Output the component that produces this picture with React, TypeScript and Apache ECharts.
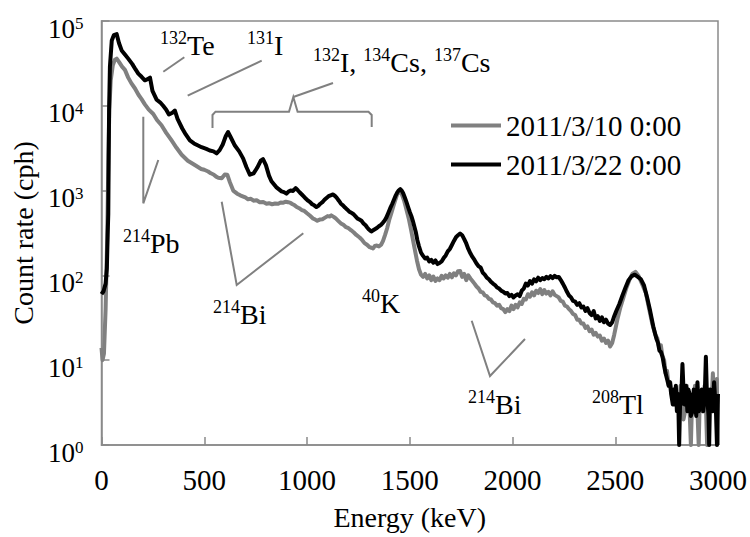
import React, { useEffect, useRef } from "react";
import * as echarts from "echarts";

// ---------- data ----------
const SERIES_NAMES = ["2011/3/10 0:00", "2011/3/22 0:00"];

// [energy keV, count rate cph] – 2011/3/10 0:00 (grey)
const spectrumMar10: [number, number][] = [
  [0, 14], [5, 10], [12, 12], [20, 40], [28, 300], [33, 2000], [38, 9000], [45, 20000], [55, 30000],
  [65, 35000], [74, 36000], [85, 33000], [100, 29000], [114, 26500], [130, 21500], [145, 18500],
  [163, 16000], [180, 13500], [195, 12000], [211, 10400], [230, 9000], [252, 8000], [270, 6800],
  [292, 5900], [315, 4800], [341, 3900], [365, 3200], [390, 2650], [420, 2250], [454, 2000],
  [485, 1800], [500, 1760], [519, 1680], [532, 1600], [545, 1550], [558, 1460], [568, 1420],
  [585, 1400], [600, 1550], [612, 1540], [625, 1250], [641, 1000], [660, 920], [675, 880], [690, 850],
  [700, 830], [713, 790], [727, 800], [740, 760], [755, 770], [770, 730], [787, 735], [803, 700],
  [815, 710], [830, 690], [845, 705], [860, 700], [872, 725], [885, 720], [897, 740], [908, 730],
  [920, 715], [930, 690], [940, 670], [950, 640], [962, 620], [975, 590], [987, 575], [1000, 540],
  [1015, 505], [1029, 470], [1040, 455], [1050, 440], [1062, 455], [1075, 460], [1088, 480],
  [1100, 500], [1110, 495], [1118, 510], [1130, 490], [1140, 470], [1152, 440], [1165, 410],
  [1177, 395], [1190, 370], [1202, 360], [1215, 340], [1228, 320], [1240, 300], [1256, 280],
  [1268, 262], [1280, 240], [1292, 230], [1305, 215], [1313, 212], [1321, 208], [1330, 222],
  [1340, 225], [1350, 220], [1361, 230], [1370, 255], [1380, 300], [1390, 360], [1400, 450],
  [1410, 540], [1420, 650], [1430, 780], [1440, 920], [1450, 990], [1462, 900], [1472, 770],
  [1480, 650], [1495, 470], [1507, 340], [1520, 230], [1535, 150], [1545, 118], [1555, 102],
  [1565, 96], [1575, 104], [1585, 92], [1595, 100], [1605, 88], [1615, 97], [1625, 86], [1635, 92],
  [1645, 88], [1655, 99], [1665, 92], [1675, 100], [1685, 94], [1695, 104], [1705, 95], [1715, 106],
  [1725, 100], [1735, 112], [1745, 113], [1755, 96], [1765, 104], [1775, 88], [1785, 100], [1795, 92],
  [1805, 86], [1815, 80], [1825, 74], [1835, 70], [1845, 64], [1855, 63], [1865, 58], [1875, 57],
  [1885, 53], [1895, 52], [1905, 48], [1915, 47], [1925, 44], [1935, 45], [1945, 41], [1955, 40],
  [1965, 37], [1975, 40], [1985, 38], [1995, 44], [2005, 40], [2015, 45], [2025, 42], [2035, 48],
  [2045, 46], [2055, 53], [2065, 52], [2075, 60], [2085, 56], [2095, 63], [2105, 58], [2115, 66],
  [2125, 62], [2135, 69], [2145, 60], [2155, 67], [2165, 61], [2175, 64], [2185, 58], [2195, 65],
  [2205, 59], [2215, 57], [2225, 55], [2235, 50], [2245, 49], [2255, 44], [2265, 43], [2275, 40],
  [2285, 38], [2295, 35], [2305, 34], [2315, 30], [2325, 30], [2335, 27], [2345, 27], [2355, 24],
  [2365, 25], [2375, 22], [2385, 23], [2395, 20], [2405, 21], [2415, 19], [2425, 19.5], [2435, 17],
  [2445, 18], [2455, 16], [2465, 17], [2475, 14.5], [2485, 16], [2495, 20], [2510, 30], [2525, 42],
  [2540, 55], [2555, 72], [2570, 90], [2584, 105], [2598, 110], [2612, 100], [2630, 80], [2649, 62],
  [2665, 40], [2680, 27], [2695, 20], [2705, 18], [2714, 14], [2722, 15], [2730, 11], [2738, 10],
  [2745, 7], [2752, 7.5], [2760, 5], [2768, 5.5], [2775, 4], [2783, 4.5], [2790, 3.5], [2800, 4],
  [2810, 3], [2818, 5], [2825, 4], [2832, 2], [2840, 2.5], [2848, 5], [2855, 3.5], [2862, 2.5],
  [2868, 1], [2874, 3.5], [2880, 3], [2888, 5], [2895, 4], [2900, 2.5], [2906, 1], [2912, 4],
  [2918, 3.5], [2926, 2.5], [2935, 5], [2941, 3], [2947, 1], [2953, 4.5], [2960, 4], [2968, 3],
  [2975, 7], [2982, 2.5], [2988, 3], [2994, 6], [3000, 1],
];

// [energy keV, count rate cph] – 2011/3/22 0:00 (black)
const spectrumMar22: [number, number][] = [
  [0, 60], [10, 65], [20, 80], [26, 120], [30, 300], [33, 530], [35, 2500], [37, 9000], [41, 29000],
  [50, 59000], [60, 68000], [74, 70000], [85, 55000], [98, 45000], [115, 40000], [130, 36000],
  [150, 31000], [165, 27000], [179, 24000], [195, 22000], [211, 20000], [222, 20500], [236, 21500],
  [248, 15000], [268, 11800], [285, 11000], [300, 10000], [315, 9000], [328, 7900], [345, 8300],
  [357, 8800], [370, 7000], [393, 5400], [410, 4600], [430, 3900], [450, 3600], [470, 3400],
  [487, 3250], [510, 3100], [527, 2970], [545, 2900], [560, 2750], [575, 3000], [590, 3500],
  [605, 4400], [616, 4900], [630, 4200], [649, 3400], [670, 2900], [689, 2400], [705, 1900],
  [722, 1540], [740, 1600], [760, 1900], [775, 2250], [786, 2350], [800, 2000], [815, 1500],
  [827, 1290], [850, 1100], [876, 980], [888, 960], [900, 920], [910, 975], [920, 1000], [932, 990],
  [945, 1070], [955, 1010], [965, 950], [975, 900], [985, 850], [995, 800], [1005, 760], [1015, 730],
  [1025, 690], [1035, 670], [1046, 640], [1055, 660], [1065, 700], [1075, 730], [1085, 780],
  [1095, 820], [1105, 860], [1115, 880], [1126, 900], [1135, 870], [1145, 820], [1155, 760],
  [1165, 700], [1175, 670], [1185, 630], [1195, 600], [1207, 560], [1215, 550], [1225, 530],
  [1235, 500], [1245, 470], [1255, 455], [1265, 440], [1275, 410], [1285, 390], [1292, 370],
  [1300, 350], [1306, 340], [1313, 330], [1320, 338], [1330, 350], [1340, 362], [1350, 380],
  [1360, 395], [1370, 420], [1378, 445], [1386, 480], [1395, 540], [1405, 620], [1415, 700],
  [1425, 800], [1432, 880], [1440, 960], [1447, 1010], [1454, 1040], [1461, 1000], [1468, 930],
  [1476, 830], [1485, 720], [1492, 640], [1500, 560], [1508, 500], [1515, 440], [1522, 380],
  [1530, 320], [1537, 260], [1545, 220], [1555, 185], [1565, 170], [1575, 158], [1585, 162],
  [1595, 146], [1605, 152], [1615, 141], [1625, 150], [1635, 136], [1645, 140], [1655, 146],
  [1665, 160], [1675, 172], [1685, 192], [1695, 205], [1705, 228], [1715, 255], [1725, 282],
  [1735, 298], [1745, 312], [1755, 298], [1765, 268], [1775, 238], [1785, 205], [1795, 182],
  [1805, 165], [1815, 152], [1825, 138], [1835, 128], [1845, 124], [1855, 108], [1865, 102],
  [1875, 94], [1885, 90], [1895, 84], [1905, 80], [1915, 77], [1925, 72], [1935, 70], [1945, 66],
  [1955, 64], [1965, 61], [1975, 62], [1985, 57], [1995, 59], [2005, 55], [2015, 58], [2025, 60],
  [2035, 57], [2045, 66], [2055, 70], [2065, 80], [2075, 76], [2085, 86], [2095, 80], [2105, 90],
  [2115, 85], [2125, 94], [2135, 88], [2145, 93], [2155, 90], [2165, 96], [2175, 92], [2185, 98],
  [2195, 93], [2205, 99], [2215, 95], [2225, 96], [2235, 88], [2245, 80], [2255, 72], [2265, 64],
  [2275, 58], [2285, 55], [2295, 50], [2305, 49], [2315, 45], [2325, 47], [2335, 42], [2345, 43],
  [2355, 38], [2365, 41], [2375, 36], [2385, 34], [2395, 38], [2405, 31], [2415, 33], [2425, 29],
  [2435, 32], [2445, 28], [2455, 30], [2465, 27], [2475, 26], [2485, 28], [2495, 33], [2505, 38],
  [2520, 46], [2535, 58], [2550, 72], [2565, 88], [2580, 98], [2595, 102], [2610, 96], [2625, 90],
  [2640, 76], [2655, 55], [2670, 38], [2685, 25], [2700, 18], [2708, 16], [2715, 13], [2722, 12.5],
  [2730, 11], [2738, 8.5], [2745, 7], [2752, 6], [2760, 5], [2766, 5.5], [2772, 4], [2780, 3],
  [2785, 4.5], [2790, 3], [2795, 5], [2800, 2.5], [2806, 4], [2811, 1], [2816, 3.5], [2820, 3],
  [2827, 9], [2833, 4], [2838, 3], [2844, 5], [2851, 2.5], [2856, 4.5], [2862, 4], [2868, 2.2],
  [2876, 2.5], [2882, 4.5], [2888, 3.5], [2894, 2.2], [2900, 5.5], [2907, 2.5], [2915, 3],
  [2921, 4.5], [2928, 2.5], [2935, 3.5], [2941, 11], [2946, 4], [2950, 3], [2954, 2.2], [2957, 1],
  [2962, 4.5], [2968, 3], [2974, 2.5], [2981, 5.5], [2986, 3.5], [2990, 2.5], [2995, 1], [3000, 4],
];

// axis ranges
const X_MIN = 0;
const X_MAX = 3000;
const X_INTERVAL = 500;
const Y_MIN = 1;
const Y_MAX = 100000;

// isotope annotations: [mass number, symbol text] parts
const ANNOTATION_TEXTS: [string, string][][] = [
  [["132", "Te"]],
  [["131", "I"]],
  [["132", "I, "], ["134", "Cs, "], ["137", "Cs"]],
  [["214", "Pb"]],
  [["214", "Bi"]],
  [["40", "K"]],
  [["214", "Bi"]],
  [["208", "Tl"]],
];

// ---------- layout ----------
const FONT = "'Liberation Serif', 'Times New Roman', serif";
const GREY = "#808080";
const AXIS_GREY = "#8a8a8a";

const ANNOTATION_POS: [number, number][] = [
  [160, 45], [247, 45], [313, 62], [123, 243], [213, 314], [362, 303], [468, 404], [592, 404],
];

const LEADER_LINES: [number, number][][] = [
  [[163.3, 71.7], [184.3, 57.3]],
  [[187.7, 95.7], [261.7, 60.7]],
  [[212.5, 128], [212.5, 115], [215.5, 111.7], [289, 111.7], [293.3, 97], [297.6, 111.7], [368.5, 111.7], [371.7, 115], [371.7, 127]],
  [[293.3, 97], [333, 83]],
  [[143.3, 116.7], [143.3, 203.3], [158.3, 160]],
  [[221.7, 201.7], [236.7, 285], [303.3, 233.3]],
  [[471.7, 320.7], [490, 376], [525, 339]],
];

export default function App() {
  const ref = useRef<HTMLDivElement>(null);

  useEffect(() => {
    if (!ref.current) return;
    const chart = echarts.init(ref.current, null, { renderer: "svg" });

    const annotationRich = {
      b: { fontSize: 28, lineHeight: 28, fontFamily: FONT, color: "#000" },
      s: { fontSize: 18, lineHeight: 18, fontFamily: FONT, color: "#000", padding: [0, 0, 14, 0] },
    };

    const graphic: any[] = [
      ...LEADER_LINES.map((pts) => ({
        type: "polyline",
        shape: { points: pts },
        style: { stroke: GREY, lineWidth: 2, fill: "none" },
        z: 10,
        silent: true,
      })),
      ...ANNOTATION_TEXTS.map((parts, i) => ({
        type: "text",
        x: ANNOTATION_POS[i][0],
        y: ANNOTATION_POS[i][1],
        z: 10,
        silent: true,
        style: {
          text: parts.map(([m, s]) => `{s|${m}}{b|${s}}`).join(""),
          rich: annotationRich,
          align: "left",
          verticalAlign: "middle",
          fill: "#000",
          fontFamily: FONT,
          fontSize: 28,
        },
      })),
    ];

    chart.setOption({
      animation: false,
      backgroundColor: "#ffffff",
      textStyle: { fontFamily: FONT, color: "#000" },
      grid: {
        left: 101.5,
        right: 31,
        top: 13.5,
        bottom: 92,
        show: true,
        borderColor: AXIS_GREY,
        borderWidth: 1.5,
        backgroundColor: "transparent",
        containLabel: false,
      },
      legend: {
        orient: "vertical",
        left: 451,
        top: 111,
        padding: 0,
        itemWidth: 50,
        itemHeight: 4,
        itemGap: 10,
        icon: "rect",
        data: SERIES_NAMES,
        textStyle: { fontSize: 29, lineHeight: 28, color: "#000", fontFamily: FONT },
      },
      xAxis: {
        type: "value",
        min: X_MIN,
        max: X_MAX,
        interval: X_INTERVAL,
        name: "Energy (keV)",
        nameLocation: "middle",
        nameGap: 58,
        nameTextStyle: { fontSize: 28, color: "#000", fontFamily: FONT },
        axisLine: { show: true, onZero: false, lineStyle: { color: AXIS_GREY, width: 1.5 } },
        axisTick: { show: true, inside: true, length: 8, lineStyle: { color: AXIS_GREY, width: 1.5 } },
        axisLabel: {
          fontSize: 29,
          color: "#000",
          margin: 20,
          fontFamily: FONT,
          formatter: (v: number) => String(v),
        },
        splitLine: { show: false },
      },
      yAxis: {
        type: "log",
        logBase: 10,
        min: Y_MIN,
        max: Y_MAX,
        name: "Count rate (cph)",
        nameLocation: "middle",
        nameGap: 60,
        nameRotate: 90,
        nameTextStyle: { fontSize: 28, color: "#000", fontFamily: FONT },
        axisLine: { show: true, lineStyle: { color: AXIS_GREY, width: 1.5 } },
        axisTick: { show: true, inside: true, length: 8, lineStyle: { color: AXIS_GREY, width: 1.5 } },
        minorTick: { show: false },
        splitLine: { show: false },
        axisLabel: {
          margin: 18,
          formatter: (v: number) => `{b|10}{s|${Math.round(Math.log10(v))}}`,
          rich: {
            b: { fontSize: 27, lineHeight: 27, fontFamily: FONT, color: "#000", padding: [15, 0, 0, 0] },
            s: { fontSize: 17, lineHeight: 17, fontFamily: FONT, color: "#000", padding: [5, 0, 0, 0] },
          },
        },
      },
      series: [
        {
          type: "line",
          name: SERIES_NAMES[0],
          data: spectrumMar10,
          showSymbol: false,
          symbol: "none",
          lineStyle: { color: GREY, width: 4, join: "round" },
          itemStyle: { color: GREY },
          z: 2,
        },
        {
          type: "line",
          name: SERIES_NAMES[1],
          data: spectrumMar22,
          showSymbol: false,
          symbol: "none",
          lineStyle: { color: "#000000", width: 4, join: "round" },
          itemStyle: { color: "#000000" },
          z: 3,
        },
      ],
      graphic,
    });

    return () => chart.dispose();
  }, []);

  return (
    <div
      ref={ref}
      style={{ position: "fixed", left: 0, top: 0, width: 750, height: 537, background: "#fff" }}
    />
  );
}
